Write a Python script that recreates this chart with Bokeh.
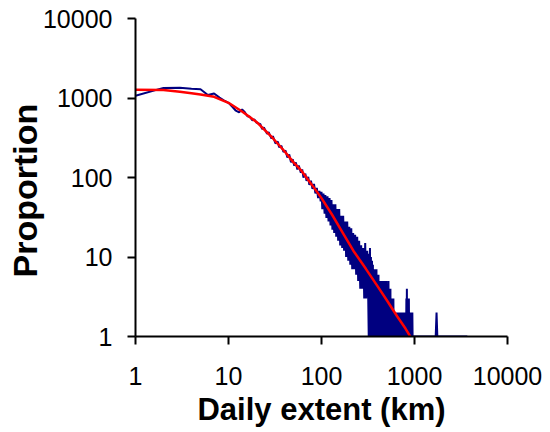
from bokeh.plotting import figure
from bokeh.models import FixedTicker, Title
from bokeh.embed import file_html
from bokeh.resources import INLINE

# ---- data ----
tick_values = [1, 10, 100, 1000, 10000]
tick_labels = ["1", "10", "100", "1000", "10000"]
x_title = "Daily extent (km)"
y_title = "Proportion"

# fitted curve (red)
fit_x = [1, 2, 3, 4, 5, 7, 10, 14, 20, 30, 40, 50, 60, 80, 100, 130, 170, 220,
         300, 400, 500, 650, 800, 900]
fit_y = [1270, 1260, 1200, 1150, 1110, 1035, 870, 676, 500, 312, 214, 155, 124,
         79, 55, 34, 20, 12, 7.1, 4.3, 2.9, 1.8, 1.26, 1.0]

# observed distribution (blue), 1..100 km
obs_x_low = [1, 2, 3, 4, 5, 6, 7, 8, 9, 10,
             11, 12, 13, 14, 15, 16, 17, 18, 19, 20, 22, 23, 24, 26, 27, 29, 30,
             32, 34, 35, 37, 39, 41, 43, 45, 47, 49, 51, 53, 55, 57, 60, 62, 64,
             67, 69, 72, 74, 77, 80, 83, 86, 89, 92, 95, 98]
obs_y_low = [1070, 1340, 1345, 1310, 1290, 1090, 1140, 1010, 930, 870,
             776, 692, 661, 716, 661, 589, 582, 525, 537, 490, 468, 407, 427, 355,
             372, 309, 331, 269, 282, 240, 251, 209, 219, 178, 195, 155, 170, 141,
             155, 126, 141, 115, 126, 100, 112, 91, 102, 81, 91, 72, 83, 63, 74,
             55, 68, 50]

# observed distribution (blue), 100..320 km
obs_x_mid = [100, 102, 105, 108, 110, 113, 116, 119, 122, 125, 128, 131, 134, 137,
             141, 144, 148, 151, 155, 159, 163, 167, 171, 175, 180, 184, 189, 194,
             199, 204, 209, 214, 219, 225, 230, 236, 242, 248, 254, 261, 267, 274,
             281, 288, 295, 302, 310, 318]
obs_y_mid = [66, 40, 63, 35, 60, 31, 58, 28, 55, 25, 52, 22, 46, 20,
             46, 18, 40, 16, 40, 14, 33, 13, 33, 12, 28, 10, 28, 9,
             24, 8, 23, 7, 20, 7, 19, 6, 18, 5, 16, 4, 14, 4,
             13, 3, 15, 3, 12, 3]

# observed distribution (blue), 320..1000 km (alternating empty / filled bins)
obs_x_high = [322, 324, 326, 328, 330, 332, 334, 336, 338, 340, 342, 344, 347, 349,
              351, 353, 355, 357, 359, 362, 364, 366, 368, 370, 373, 375, 378, 380,
              382, 385, 387, 390, 392, 395, 397, 400, 402, 405, 407, 410, 412, 415,
              417, 420, 422, 425, 427, 430, 433, 436, 438, 441, 444, 447, 449, 452,
              455, 458, 460, 463, 466, 469, 472, 475, 478, 481, 484, 487, 490, 493,
              496, 499, 502, 505, 508, 512, 515, 518, 521, 525, 528, 531, 534, 538,
              541, 544, 547, 551, 554, 558, 561, 565, 568, 572, 575, 579, 582, 586,
              589, 593, 597, 601, 604, 608, 612, 616, 619, 623, 627, 631, 634, 638,
              642, 646, 650, 654, 658, 663, 667, 671, 675, 679, 683, 688, 692, 696,
              700, 705, 709, 714, 718, 723, 727, 732, 736, 741, 745, 750, 754, 759,
              764, 769, 773, 778, 783, 788, 793, 798, 802, 807, 812, 818, 823, 828,
              833, 838, 843, 848, 853, 859, 864, 870, 875, 881, 886, 892, 897, 903,
              908, 914, 919, 925, 931, 937, 942, 948, 954, 960, 966, 972, 978, 984,
              990, 996]
obs_y_high = [1, 11, 1, 8, 1, 13, 1, 7, 1, 10, 1, 6, 1, 9,
              1, 7, 1, 8, 1, 6, 1, 7, 1, 5, 1, 7, 1, 6,
              1, 5, 1, 7, 1, 5, 1, 6, 1, 4, 1, 6, 1, 5,
              1, 4, 1, 5, 1, 4, 1, 5, 1, 3, 1, 5, 1, 4,
              1, 3, 1, 4, 1, 5, 1, 3, 1, 5, 1, 4, 1, 3,
              1, 5, 1, 3, 1, 4, 1, 3, 1, 5, 1, 3, 1, 4,
              1, 3, 1, 4, 1, 2, 1, 3, 1, 2, 1, 3, 1, 2,
              1, 3, 1, 2, 1, 2, 1, 2, 1, 1, 1, 2, 1, 2,
              1, 1, 1, 2, 1, 2, 1, 1, 1, 2, 1, 2, 1, 1,
              1, 2, 1, 2, 1, 1, 1, 2, 1, 1, 1, 2, 1, 1,
              1, 2, 1, 1, 1, 2, 1, 1, 1, 2, 1, 3, 1, 4,
              1, 2, 1, 3, 1, 2, 1, 3, 1, 1, 1, 2, 1, 2,
              1, 1, 1, 2, 1, 1, 1, 2, 1, 1, 1, 1, 1, 1,
              1, 1]

# tail beyond 1000 km
obs_x_tail = [1000, 1690, 1726, 1760, 3700]
obs_y_tail = [1, 1, 2, 1, 1]

obs_x = obs_x_low + obs_x_mid + obs_x_high + obs_x_tail
obs_y = obs_y_low + obs_y_mid + obs_y_high + obs_y_tail

# ---- figure ----
p = figure(frame_width=372, frame_height=318,
           x_axis_type="log", y_axis_type="log",
           x_range=(1, 10000), y_range=(1, 10000),
           output_backend="svg", toolbar_location=None,
           min_border_left=135, min_border_right=35,
           min_border_top=18, min_border_bottom=96)
p.outline_line_color = None
p.grid.grid_line_color = None
p.background_fill_color = "white"
p.border_fill_color = "white"

p.line(obs_x, obs_y, line_color="#000080", line_width=2)
p.line(fit_x, fit_y, line_color="#FF0000", line_width=2.5)

overrides = {v: s for v, s in zip(tick_values, tick_labels)}
for ax in (p.xaxis[0], p.yaxis[0]):
    ax.ticker = FixedTicker(ticks=tick_values)
    ax.major_label_overrides = overrides
    ax.axis_line_width = 2
    ax.axis_line_color = "black"
    ax.major_tick_line_width = 2
    ax.major_tick_line_color = "black"
    ax.major_tick_in = 0
    ax.major_tick_out = 8
    ax.minor_tick_line_color = None
    ax.major_label_text_font = "Liberation Sans"
    ax.major_label_text_font_size = "25px"
    ax.major_label_text_color = "black"

p.xaxis.major_label_standoff = 22
p.yaxis.major_label_standoff = 15

# axis titles as side titles
p.add_layout(Title(text=x_title, align="center", standoff=4,
                   text_font="Liberation Sans", text_font_style="bold",
                   text_font_size="31px", text_color="black"), "below")
p.add_layout(Title(text=y_title, align="left", offset=59, standoff=-8,
                   text_font="Liberation Sans", text_font_style="bold",
                   text_font_size="34px", text_color="black"), "left")

open("out.html", "w").write(file_html(p, INLINE))
